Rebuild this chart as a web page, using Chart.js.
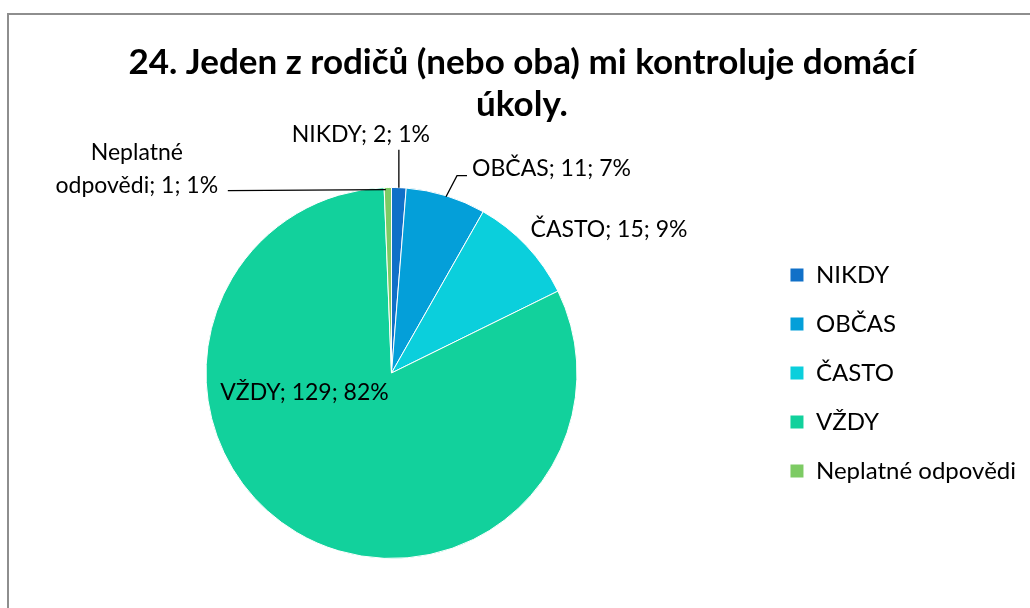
<!DOCTYPE html>
<html>
<head>
<meta charset="utf-8">
<script src="https://cdn.jsdelivr.net/npm/chart.js@4"></script>
<style>
html,body{margin:0;padding:0;background:#fff;}
#wrap{position:relative;width:1030px;height:608px;overflow:hidden;}
#frame{position:absolute;left:7px;top:13px;width:1100px;height:700px;border-top:2px solid #8e8e8e;border-left:2px solid #8e8e8e;}
canvas{position:absolute;left:0;top:0;}
</style>
</head>
<body>
<div id="wrap"><div id="frame"></div><canvas id="pieChart" width="1030" height="608"></canvas></div>
<script>

// DATA

const categories = ['NIKDY', 'OBČAS', 'ČASTO', 'VŽDY', 'Neplatné odpovědi']
const counts = [2, 11, 15, 129, 1]
const percents = [1, 7, 9, 82, 1]
const colors = ['#1070c8', '#049fd9', '#0bcfdc', '#12d19c', '#7dcb64']
const titleLines = ['24. Jeden z rodičů (nebo oba) mi kontroluje domácí', 'úkoly.']

const FONT = 'Lato'

// where each data label sits, relative to the outer edge of its slice
// (the big slice has its label inside, relative to the pie centre)
const labelPlace = [
{dx:-38, dy:-53, align:'center', leader:[[0,0],[0,-38]]},
{dx:26, dy:-27, align:'left', leader:[[0,1],[11,-20],[21,-20]]},
{dx:4, dy:-16, align:'left', leader:null},
{dx:-87, dy:20, align:'center', leader:null, inside:true},
{dx:-251, dy:-2, align:'center', leader:[[-2,2],[-160,3]], wrap:true}
]


// DATA LABELS

const dataLabels = {

id:'dataLabels',

afterDatasetsDraw(chart){

const ctx = chart.ctx
const arcs = chart.getDatasetMeta(0).data

ctx.save()
ctx.font = '23px ' + FONT
ctx.fillStyle = '#000'
ctx.strokeStyle = '#000'
ctx.lineWidth = 1.3
ctx.textBaseline = 'middle'

for(let i=0;i<arcs.length;i++){

let a = arcs[i].getProps(['x','y','startAngle','endAngle','outerRadius'])
let mid = (a.startAngle + a.endAngle) / 2
let ex = a.x + Math.cos(mid) * a.outerRadius
let ey = a.y + Math.sin(mid) * a.outerRadius
let pl = labelPlace[i]

let bx = pl.inside ? a.x : ex
let by = pl.inside ? a.y : ey

if(pl.leader){
ctx.beginPath()
pl.leader.forEach((p, k) => {
if(k==0) ctx.moveTo(ex + p[0], ey + p[1])
else ctx.lineTo(ex + p[0], ey + p[1])
})
ctx.stroke()
}

let text = categories[i] + '; ' + counts[i] + '; ' + percents[i] + '%'
let lines = [text]
if(pl.wrap){
let sp = text.indexOf(' ')
lines = [text.slice(0, sp), text.slice(sp + 1)]
}

ctx.textAlign = pl.align
let lh = 33
for(let k=0;k<lines.length;k++){
let ly = by + pl.dy - (lines.length - 1 - k) * lh
ctx.fillText(lines[k], bx + pl.dx, ly)
}

}

ctx.restore()

}

}


// CHART

const ctx = document.getElementById('pieChart')

new Chart(ctx, {

type: 'pie',

data: {

labels: categories,

datasets: [{

data: counts,

backgroundColor: colors,

borderColor: '#ffffff',

borderWidth: 1

}]

},

options: {

responsive:false,

animation:false,

layout:{
padding:{left:18, right:4, top:0, bottom:49}
},

plugins:{

title:{
display:true,
text:titleLines,
color:'#000',
font:{family:FONT, size:35, weight:'bold', lineHeight:1.2},
padding:{top:42, bottom:61}
},

legend:{
position:'right',
fullSize:false,
labels:{
color:'#000',
font:{family:FONT, size:24},
boxWidth:14,
boxHeight:14,
padding:25
}
},

tooltip:{enabled:false}

}

},

plugins:[dataLabels]

})

</script>
</body>
</html>
